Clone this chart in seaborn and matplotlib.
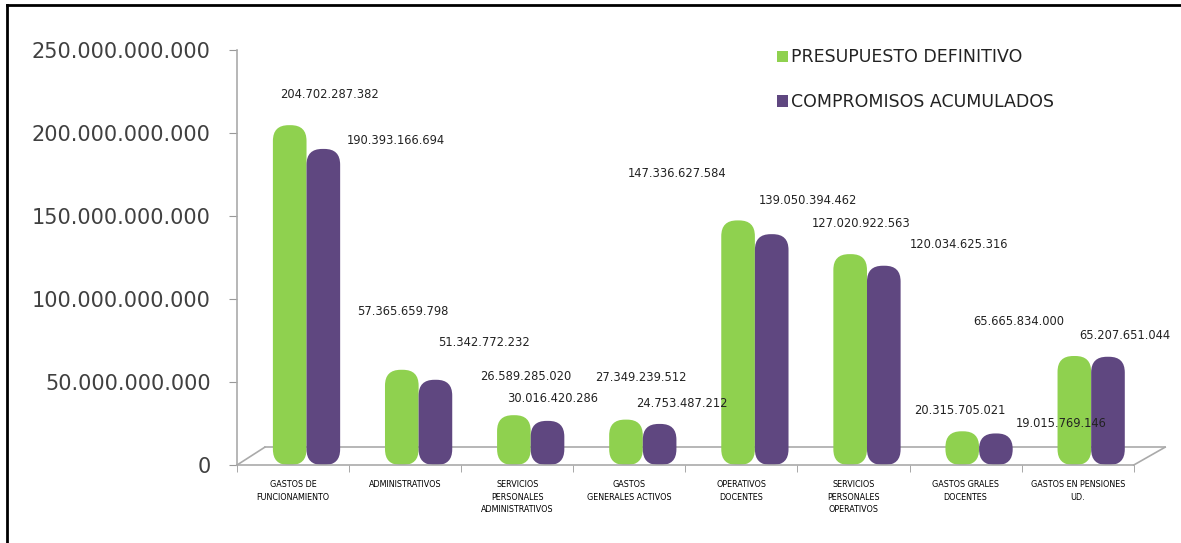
import matplotlib
matplotlib.use("Agg")
import matplotlib.pyplot as plt
import seaborn as sns
import pandas as pd
from matplotlib.patches import Patch, FancyBboxPatch
from matplotlib.lines import Line2D

categorias = [
    "GASTOS DE\nFUNCIONAMIENTO",
    "ADMINISTRATIVOS",
    "SERVICIOS\nPERSONALES\nADMINISTRATIVOS",
    "GASTOS\nGENERALES ACTIVOS",
    "OPERATIVOS\nDOCENTES",
    "SERVICIOS\nPERSONALES\nOPERATIVOS",
    "GASTOS GRALES\nDOCENTES",
    "GASTOS EN PENSIONES\nUD.",
]
presupuesto = [204702287382, 57365659798, 30016420286, 27349239512,
               147336627584, 127020922563, 20315705021, 65665834000]
compromisos = [190393166694, 51342772232, 26589285020, 24753487212,
               139050394462, 120034625316, 19015769146, 65207651044]
series = ["PRESUPUESTO DEFINITIVO", "COMPROMISOS ACUMULADOS"]
colores = ["#8fd14f", "#5f4780"]

# desplazamiento de cada etiqueta (puntos) respecto al tope de su barra
off_presupuesto = [(29, 22), (1, 42), (28, 12), (11, 30), (-44, 34), (8, 22), (-2, 15), (-40, 25)]
off_compromisos = [(52, 6), (35, 27), (-16, 32), (16, 15), (26, 24), (54, 15), (47, 7), (12, 15)]

df = pd.DataFrame({
    "categoria": categorias * 2,
    "valor": presupuesto + compromisos,
    "serie": [series[0]] * len(categorias) + [series[1]] * len(categorias),
})

def fmt_miles(v):
    return f"{int(v):,}".replace(",", ".")

fig = plt.figure(figsize=(11.81, 5.43), dpi=100)
ax = fig.add_axes([0.2007, 0.1436, 0.7593, 0.7644])
sns.barplot(data=df, x="categoria", y="valor", hue="serie", palette=colores,
            width=0.6, saturation=1, ax=ax, legend=False)

ax.set_ylim(0, 250e9)
ax.set_xlim(-0.5, len(categorias) - 0.5)

# barras redondeadas y algo corridas a la derecha, como en el grafico 3D original
aspecto = (250e9 / (0.7644 * 543)) / (8 / (0.7593 * 1181))
for bar in list(ax.patches):
    x, y = bar.get_x() + 0.12, bar.get_y()
    w, h = bar.get_width(), bar.get_height()
    r = FancyBboxPatch((x, y), w, h, boxstyle="round,pad=0,rounding_size=0.14",
                       mutation_aspect=aspecto, facecolor=bar.get_facecolor(),
                       edgecolor="none", zorder=2)
    bar.remove()
    ax.add_patch(r)

ax.set_yticks([0, 50e9, 100e9, 150e9, 200e9, 250e9])
ax.set_yticklabels([fmt_miles(v) for v in ax.get_yticks()], fontsize=15, color="#404040")
ax.set_xticks(range(len(categorias)))
ax.set_xticklabels(categorias, fontsize=5.8, linespacing=1.5)
ax.set_xticks([i - 0.5 for i in range(len(categorias) + 1)], minor=True)
ax.tick_params(axis="x", which="major", length=0, pad=11)
ax.tick_params(axis="x", which="minor", length=5, color="#999999")
ax.tick_params(axis="y", length=6, color="#999999", pad=13)
ax.set_xlabel("")
ax.set_ylabel("")
for s in ["top", "right"]:
    ax.spines[s].set_visible(False)
for s in ["left", "bottom"]:
    ax.spines[s].set_color("#aaaaaa")
    ax.spines[s].set_linewidth(1.2)

# piso del grafico
piso = dict(color="#aaaaaa", lw=1.2, transform=ax.transAxes, clip_on=False, zorder=0)
ax.add_artist(Line2D([0, 0.031], [0, 0.043], **piso))
ax.add_artist(Line2D([0.031, 1.035], [0.043, 0.043], **piso))
ax.add_artist(Line2D([1.0, 1.035], [0, 0.043], **piso))

# etiquetas de datos
for i, (p, c) in enumerate(zip(presupuesto, compromisos)):
    ax.annotate(fmt_miles(p), (i - 0.03, p), xytext=off_presupuesto[i], textcoords="offset points",
                ha="center", va="center", fontsize=8.3, color="#222222")
    ax.annotate(fmt_miles(c), (i + 0.27, c), xytext=off_compromisos[i], textcoords="offset points",
                ha="center", va="center", fontsize=8.3, color="#222222")

handles = [Patch(facecolor=colores[0]), Patch(facecolor=colores[1])]
fig.legend(handles, series, loc="upper left", bbox_to_anchor=(0.645, 0.94),
           frameon=False, fontsize=12.5, handlelength=0.6, handleheight=0.6,
           handletextpad=0.2, labelspacing=1.55, labelcolor="#222222")

# borde del cuadro
fig.add_artist(Line2D([0.006, 0.006], [0, 0.991], color="black", lw=2, transform=fig.transFigure))
fig.add_artist(Line2D([0.006, 1], [0.991, 0.991], color="black", lw=2, transform=fig.transFigure))

fig.savefig("out.png", dpi=100)
